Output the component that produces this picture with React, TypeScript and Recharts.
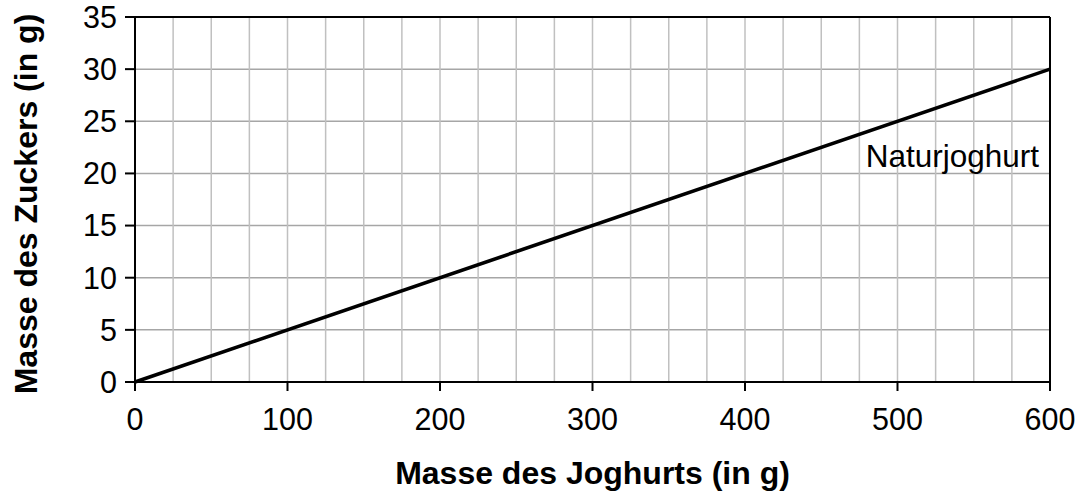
import React from 'react';
import {
  LineChart,
  Line,
  XAxis,
  YAxis,
  CartesianGrid,
  ReferenceLine,
  ReferenceDot,
} from 'recharts';

// Data
const joghurtMass = [0, 600];
const sugarMass = [0, 30];
const xTicks = [0, 100, 200, 300, 400, 500, 600];
const yTicks = [0, 5, 10, 15, 20, 25, 30, 35];
const xMinorGrid = [25, 50, 75, 100, 125, 150, 175, 200, 225, 250, 275, 300, 325, 350, 375, 400, 425, 450, 475, 500, 525, 550, 575];
const seriesName = 'Naturjoghurt';
const seriesLabelAt = { x: 592.8, y: 20.6 };
const xTitle = 'Masse des Joghurts (in g)';
const yTitle = 'Masse des Zuckers (in g)';

const data = joghurtMass.map((x, i) => ({ x, y: sugarMass[i] }));

const FONT = '"Liberation Sans", Arial, sans-serif';
const X_MAX = 600;

export default function App() {
  return (
    <div style={{ position: 'absolute', left: 0, top: 0, background: '#fff' }}>
      <LineChart
        width={1083}
        height={494}
        data={data}
        margin={{ top: 17, right: 33, bottom: 0, left: 0 }}
        style={{ fontFamily: FONT }}
      >
        <CartesianGrid vertical={false} stroke="#a6a6a6" strokeWidth={1.5} />
        <CartesianGrid
          horizontal={false}
          stroke="#c0c0c0"
          strokeWidth={1.5}
          verticalCoordinatesGenerator={({ offset }: any) =>
            xMinorGrid.map((v) => offset.left + (v / X_MAX) * offset.width)
          }
        />
        <XAxis
          dataKey="x"
          type="number"
          domain={[0, 600]}
          ticks={xTicks}
          interval={0}
          height={112}
          tickSize={9}
          tickMargin={17}
          axisLine={{ stroke: '#000', strokeWidth: 2 }}
          tickLine={{ stroke: '#000', strokeWidth: 2 }}
          tick={{ fill: '#000', fontSize: 30.5, fontFamily: FONT }}
          label={{
            content: ({ viewBox }: any) => (
              <text
                x={viewBox.x + viewBox.width / 2}
                y={484}
                textAnchor="middle"
                fontSize={32}
                fontWeight="bold"
                fontFamily={FONT}
                fill="#000"
              >
                {xTitle}
              </text>
            ),
          }}
        />
        <YAxis
          type="number"
          domain={[0, 35]}
          ticks={yTicks}
          interval={0}
          width={135}
          tickSize={10}
          tickMargin={8}
          axisLine={{ stroke: '#000', strokeWidth: 2 }}
          tickLine={{ stroke: '#000', strokeWidth: 2 }}
          tick={{ fill: '#000', fontSize: 30.5, fontFamily: FONT }}
          label={{
            content: () => (
              <text
                x={37}
                y={204}
                transform="rotate(-90, 37, 204)"
                textAnchor="middle"
                fontSize={32}
                fontWeight="bold"
                fontFamily={FONT}
                fill="#000"
              >
                {yTitle}
              </text>
            ),
          }}
        />
        <ReferenceLine y={35} stroke="#000" strokeWidth={2} />
        <ReferenceLine x={600} stroke="#000" strokeWidth={2} />
        <Line
          type="linear"
          dataKey="y"
          stroke="#000"
          strokeWidth={3.5}
          dot={false}
          isAnimationActive={false}
        />
        <ReferenceDot
          x={seriesLabelAt.x}
          y={seriesLabelAt.y}
          r={0}
          shape={(p: any) => (
            <text
              x={p.cx}
              y={p.cy}
              textAnchor="end"
              fontSize={31.5}
              fontFamily={FONT}
              fill="#000"
            >
              {seriesName}
            </text>
          )}
        />
      </LineChart>
    </div>
  );
}
